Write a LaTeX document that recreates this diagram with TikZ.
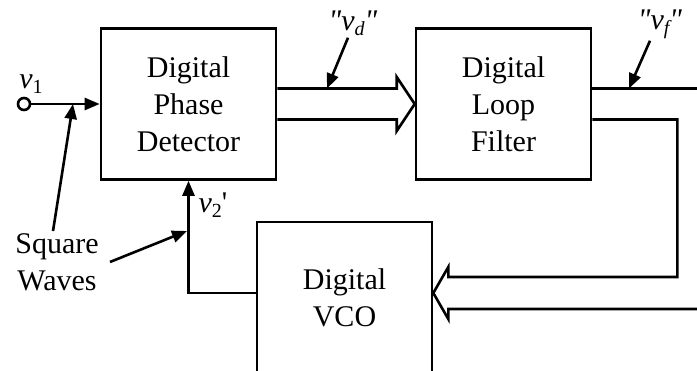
\documentclass[tikz,border=0pt]{standalone}
\usepackage{fontspec}
\setmainfont{Liberation Serif}
\usetikzlibrary{arrows.meta,positioning,calc}

\newcommand{\sig}[2]{\textit{v}\raisebox{-5pt}{\fontsize{20}{20}\selectfont #1}#2}
\newcommand{\qt}{\textit{\textquotedbl}}

\begin{document}
\begin{tikzpicture}[x=1pt,y=-1pt,line width=2.6pt,node distance=315pt,
  >={Triangle[length=15pt,width=12pt]},
  block/.style={draw,rectangle,minimum width=175pt,minimum height=151pt,
    align=center,inner sep=0pt,font=\fontsize{30}{37}\selectfont},
  lbl/.style={font=\fontsize{30}{37}\selectfont,inner sep=1pt,align=center}]

  \clip (0,0) rectangle (697,371);

  \node[block] (pd) at (188.5,104) {Digital\\Phase\\Detector};
  \node[block] (lf) [right of=pd] {Digital\\Loop\\Filter};
  \node[block] (vco) at (344.5,297.5) {Digital\\VCO};

  % input
  \node[circle,draw,inner sep=0pt,minimum size=12pt] (in) at (24,104) {};
  \node[lbl] (v1) at (31,84) {\sig{1}{}};
  \draw[->] (in) -- (pd.west);

  \node[lbl] (sq) at (57,262) {Square\\Waves};
  \coordinate (sq1) at (73,104);
  \coordinate (sq2) at (187,231);
  \draw[->] ([xshift=-4pt]sq.north) -- (sq1);
  \draw[->] ([xshift=9pt]sq.east) -- (sq2);

  % feedback
  \draw[->] ([yshift=4.5pt]vco.west) -| (pd.south);
  \node[lbl] (v2) at (213,205) {\sig{2}{\textquotesingle}};

  % wide arrow to the loop filter
  \draw[line join=miter] ([yshift=15.5pt]pd.east)
    -- ([xshift=-18pt,yshift=15.5pt]lf.west) -- ([xshift=-18pt,yshift=27pt]lf.west)
    -- (lf.west)
    -- ([xshift=-18pt,yshift=-27pt]lf.west) -- ([xshift=-18pt,yshift=-15.5pt]lf.west)
    -- ([yshift=-15.5pt]pd.east);
  \node[lbl] (vd) at (353,23) {\qt\sig{\itshape d}{}\qt};
  \coordinate (vdp) at (327,88.5);
  \draw[->] ([xshift=-5pt]vd.south) -- (vdp);

  % wide arrow back to the VCO
  \coordinate (vt) at ([yshift=4.5pt]vco.east);
  \draw ([yshift=15.5pt]lf.east) -- ++(130,0);
  \draw[line join=miter] ([yshift=-15.5pt]lf.east) -| ($(vt)+(244,-16)$)
    -- ($(vt)+(15,-16)$) -- ($(vt)+(15,-26)$) -- (vt)
    -- ($(vt)+(15,26)$) -- ($(vt)+(15,16)$) -- ($(vt)+(290,16)$);
  \node[lbl] (vf) at (660,24) {\qt\sig{\itshape f}{}\qt};
  \coordinate (vfp) at (629,88.5);
  \draw[->] ([xshift=-10pt]vf.south) -- (vfp);
\end{tikzpicture}
\end{document}
